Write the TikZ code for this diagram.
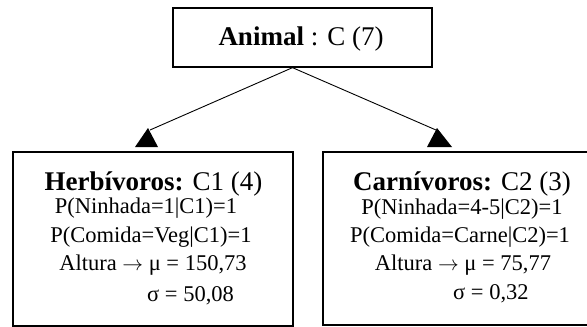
\documentclass[tikz,border=0pt]{standalone}
\usepackage{fontspec}
\setmainfont{Liberation Serif}
\begin{document}
\begin{tikzpicture}[x=1pt,y=-1pt,
  box/.style={draw=black,line width=1.3pt,inner sep=0pt},
  head/.style={font=\fontsize{27}{30}\selectfont,anchor=base,inner sep=0pt},
  body/.style={font=\fontsize{22.5}{26}\selectfont,anchor=base,inner sep=0pt},
  link/.style={draw=black,line width=0.9pt},
  tipfill/.style={fill=black}]
\useasboundingbox (0,0) rectangle (587,327);
\clip (0,0) rectangle (587,327);

% class boxes
\node[box,minimum width=259pt,minimum height=59pt] (root) at (302.5,37.5) {};
\node[box,minimum width=280pt,minimum height=174pt] (herb) at (153,239) {};
\node[box,minimum width=290pt,minimum height=173pt] (carn) at (468,238.5) {};

% root label
\node[head] (roottxt) at (301,45) {\textbf{Animal} : C (7)};

% herbivores
\node[head] (h1) at (153.5,190) {\textbf{Herbívoros:} C1 (4)};
\node[body] (h2) at (146,213) {P(Ninhada=1|C1)=1};
\node[body] (h3) at (151,242) {P(Comida=Veg|C1)=1};
\node[body] (h4) at (153,270) {Altura $\rightarrow$ μ = 150,73};
\node[body,anchor=base west] (h5) at (147,301) {σ = 50,08};

% carnivores
\node[head] (c1) at (462,190) {\textbf{Carnívoros:} C2 (3)};
\node[body] (c2) at (462,214) {P(Ninhada=4-5|C2)=1};
\node[body] (c3) at (460,242) {P(Comida=Carne|C2)=1};
\node[body] (c4) at (463,270) {Altura $\rightarrow$ μ = 75,77};
\node[body,anchor=base west] (c5) at (453,299) {σ = 0,32};

% links from the root to each class
\coordinate (fork) at ([xshift=-10pt]root.south);
\coordinate (tipL) at (150,130);
\coordinate (tipR) at (436,130);
\draw[link] (fork) -- (tipL);
\draw[link] (fork) -- (tipR);
\fill[tipfill] (148,128) -- (158,147) -- (135,147) -- cycle;
\fill[tipfill] (437,128) -- (452,147) -- (427,147) -- cycle;
\end{tikzpicture}
\end{document}
